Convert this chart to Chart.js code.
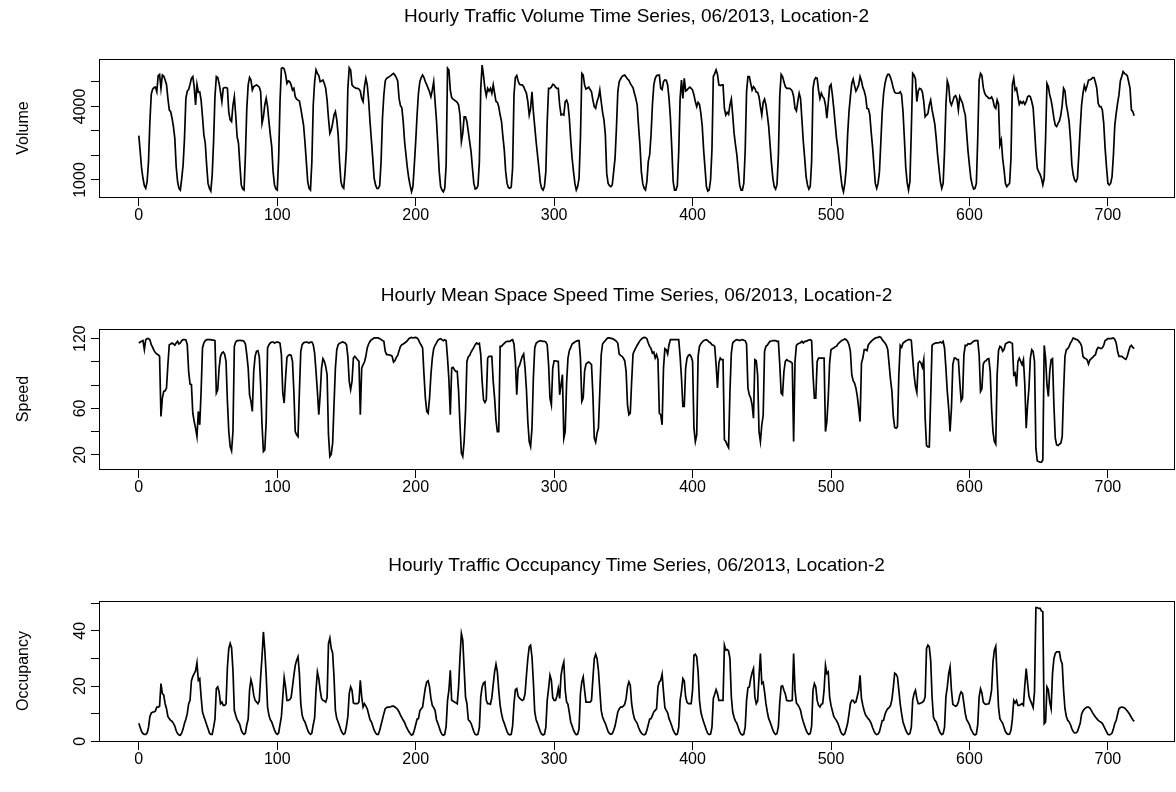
<!DOCTYPE html>
<html>
<head>
<meta charset="utf-8">
<script src="https://cdn.jsdelivr.net/npm/chart.js@4.4.0/dist/chart.umd.min.js"></script>
<style>
  body { margin: 0; background: #fff; width: 1176px; height: 792px; overflow: hidden; position: relative; }
  canvas { position: absolute; left: 0; }
</style>
</head>
<body>
<canvas id="volChart" width="1176" height="264" style="top:0px"></canvas>
<canvas id="spdChart" width="1176" height="264" style="top:264px"></canvas>
<canvas id="occChart" width="1176" height="264" style="top:528px"></canvas>
<script>
// hourly values, 06/2013, one line per day (24 h)
const volume = [
  2810,2160,1480,1070,770,660,930,1750,3380,4500,4710,4770,4790,4600,5260,5310,4740,5280,5240,5080,4900,4330,3860,3790,
  3520,3180,2700,1540,930,660,590,1070,1610,2700,4330,4630,4690,4900,5150,5220,4810,4060,4900,4580,4600,4260,3580,2840,
  2500,1610,860,660,550,1200,2560,4400,5220,5180,4940,4600,4200,4740,4770,4770,4740,3760,3450,3380,4060,4400,3650,2770,
  2500,1610,800,630,590,2020,3920,4880,5180,5080,4670,4810,4850,4880,4840,4790,4600,3310,3580,4060,4330,3990,3380,2840,
  2360,1340,800,630,590,1880,4200,5560,5580,5530,5310,4940,5040,5010,4880,4670,4740,4400,4300,4260,4220,3920,3580,3240,
  2560,1750,930,660,590,1750,4060,5010,5490,5350,5260,5010,5040,5080,4940,4740,4260,3520,2900,3040,3310,3650,3790,3450,
  2840,1750,930,730,660,1340,2290,4740,5580,5490,4880,4810,4770,4740,4740,4710,4630,4330,4200,4810,5150,4880,4260,3380,
  2630,1880,1070,800,660,660,770,1750,3520,4470,5040,5150,5180,5220,5260,5310,5350,5280,5180,5040,4330,4030,3950,3380,
  2560,2020,1480,1070,770,520,730,1610,2560,3650,4540,5010,5180,5280,5180,5010,4880,4740,4600,4400,4670,5010,4200,3450,
  2430,1340,730,590,520,660,1610,5560,5490,4670,4360,4300,4260,4220,4170,4060,3650,2560,2900,3580,3580,3380,2970,2560,
  2160,1480,860,630,660,770,1750,4740,5690,5260,4740,4440,4740,4630,4740,4540,4880,4540,4200,4170,3990,3650,3380,2770,
  2220,1340,860,690,660,710,1480,4470,5180,5260,5040,4900,4880,4880,4810,4670,4540,4200,3650,3920,4600,3790,3180,2560,
  2020,1480,900,660,590,730,1340,3380,4740,4740,4790,4900,4880,4790,4740,4740,4060,3650,3680,3650,4200,4260,4090,3520,
  2630,1880,1340,860,590,730,1070,2700,5350,5280,4880,4710,4740,4790,4690,4600,4260,3990,3920,4200,4360,4670,4200,3760,
  3450,2840,1270,860,770,730,800,1340,1880,3110,4600,5010,5120,5220,5260,5280,5200,5120,5070,4940,4850,4760,4540,4330,
  4060,3180,2430,1340,860,660,590,930,1750,2020,2840,4060,4880,5150,5260,5280,5280,4740,4690,5010,5080,5070,4880,4330,
  3520,2290,930,590,590,770,2160,4330,5080,4330,5150,4630,4670,4740,4790,4740,4670,4470,4200,3990,4170,4090,3720,3180,
  2220,1480,730,550,590,1000,2220,5220,5340,5490,5310,4880,4850,4880,4880,3920,3650,3760,3680,4060,4300,3650,2900,2430,
  2020,1410,800,590,590,860,2160,4600,5220,5220,4940,4670,4810,4740,4580,4580,4400,3990,3650,4170,4300,4060,3650,3180,
  2430,1680,1070,730,630,820,2020,4470,5310,5220,5010,4810,4740,4740,4740,4700,4630,4400,3920,3820,4200,4540,4330,3450,
  2560,1880,1140,800,630,730,1750,4740,5080,5180,5150,4670,4330,4540,4400,4330,4060,3520,4130,4810,4900,4470,3920,3310,
  2700,2290,1750,1200,730,520,860,1480,2840,3790,4400,4940,5120,4850,4630,4740,4880,5220,5040,4770,4630,4400,3920,3900,
  3680,2970,2360,1610,860,660,860,1340,2560,3790,4540,4940,5180,5310,5310,5180,4990,4740,4580,4540,4540,4540,4600,4470,
  3800,2700,1500,900,590,930,3000,5350,5280,5120,4200,4630,4740,4710,4600,4200,3580,3650,3710,4060,4260,3860,3580,3270,
  2700,2020,1480,930,660,860,2160,4060,5040,4850,4200,4060,4220,4400,4440,4300,3860,4400,4260,4130,3860,3650,2900,2160,
  1610,1070,800,630,660,860,2700,5080,5350,5260,4770,4540,4440,4390,4330,4330,4390,4260,3990,3920,4260,4090,2430,2630,
  1880,1410,860,730,800,860,1880,4880,5150,4670,4740,4400,4090,4200,4130,4200,4090,4200,4400,4440,4400,4200,3950,3110,
  2160,1480,1340,1230,1070,800,1070,2700,4940,4810,4470,4260,3920,3520,3240,3180,3310,3410,3650,4060,4740,4630,4060,3760,
  3380,2630,1610,1200,1000,930,1070,2020,3110,4060,4540,4850,4670,4850,5080,5080,5120,5180,5180,4990,4740,4130,3990,3990,
  3860,3310,2290,1540,860,800,860,1140,2020,3240,3720,4130,4470,5040,5220,5420,5350,5310,5260,5010,4740,3860,3790,3620
];

const speed = [
  116.3,117.1,117.7,118.3,110.5,119.1,120,120,119.1,114.8,112.5,109.7,107.9,106.8,106.2,104.8,53,68.9,74.6,75.2,77.5,97.6,114.8,115.4,
  116.3,115.4,114.3,116.3,117.7,115.4,116.3,118.3,119.1,119.1,118.8,114.8,91.8,80.9,80.4,55.9,48.7,43,35.8,57.4,45.9,74.6,112,116.3,
  118.3,119.1,119.1,119.1,119.1,118.8,118.8,118.3,73.2,76.1,94.7,104.8,107.6,108.5,106.8,100.5,66,40.1,27.2,23.5,40.1,113.4,117.1,118.3,
  118.3,118.6,118.3,118.3,117.7,115.4,106.2,94.7,71.7,66,57.4,91.8,104.8,109.1,109.7,104.8,80.4,45.9,22.9,24.3,48.7,112,114.8,116.3,
  117.1,117.1,116.3,116.8,117.1,116.8,116,106.2,73.2,64.6,86.1,103.9,105.6,106.2,105.6,100.5,74.6,40.1,37.3,35.8,74.6,109.1,114.8,116.5,
  116.8,117.1,116.8,116.3,117.1,117.1,114.8,107.6,91.8,74.6,54.5,71.7,94.7,102.8,100.5,96.1,89,37.3,18.6,20.6,30.1,63.1,94.7,110.5,
  114.8,116,116.5,117.1,116.8,116.3,114.8,104.8,83.2,76.1,83.2,103.3,104.8,103.3,101.9,100.5,54.5,94.7,97.6,99.9,104.8,112,115.4,117.7,
  119.1,119.7,120.6,120.6,120.6,120.6,120,119.4,118.3,117.7,109.1,106.2,106.2,105.9,105.6,104.8,99.9,101,103.9,105.6,109.7,113.4,114.8,115.4,
  116.3,117.1,118.3,120,120.6,121.1,120.6,120.9,121.1,120.6,119.1,116.3,114.3,112,89,68.9,57.4,55.9,68.9,89,103.3,111.4,114.3,116.3,
  118.6,119.4,120,119.1,118.3,119.1,118.3,103.3,84.7,54.5,94.7,95.3,93.3,91.8,91.8,74.6,45.9,21.5,18.6,31.5,57.4,100.5,104.5,105.6,
  108.5,110.5,112.5,114.8,116.3,115.4,116,106.2,83.2,67.4,65.1,67.4,103.3,104.8,104.8,104.8,83.2,68.9,50.2,40.1,40.1,113.4,113.4,114.8,
  116,117.1,117.7,117.7,117.7,118.6,119.1,115.4,100.5,71.7,94.7,97,101,104.8,106.8,94.7,76.1,48.7,31.5,27.2,43,86.1,112,116,
  117.1,117.7,118.3,118,117.7,117.7,117.1,114.8,97.6,68.9,63.1,94.7,101,101,100.5,100.5,71.7,80.4,89,34.4,40.1,81.8,103.3,109.7,
  112.5,115.4,116.3,117.1,117.7,118.3,118.3,103.3,66,68.9,91.8,98.1,99.3,99.9,99,97.6,71.7,34.4,30.9,38.7,43,74.6,106.2,115.4,
  117.1,118.3,120,120.6,120.6,120.3,120,119.4,118.6,117.7,116,106.8,105.6,104.8,103.3,101,91.8,63.1,54.5,55.9,83.2,106.8,109.7,112,
  114.3,116.3,118.3,119.7,120.6,121.1,120.9,120,116.3,113.4,111.4,107.6,108.5,103.3,106.2,101.9,55.9,54.5,45.9,94.7,111.4,110.5,106.8,114.8,
  119.1,119.1,119.1,119.1,119.1,119.1,119.1,104.8,86.1,61.7,61.7,94.7,103.3,105.6,106.2,104.5,100.5,43,31.5,37.3,104.8,113.4,115.7,117.1,
  118.3,118.8,119.1,118.3,117.1,116.3,114.8,114.3,113.4,97.6,77.5,99,103.3,101.9,101.9,33,31.5,28.6,26.3,74.6,107.6,116.3,117.7,118.6,
  119.1,118.8,118.3,118.8,119.1,118.6,118.3,115.4,77.5,71.7,68.9,63.1,51.6,101.9,101,89,40.1,31.5,45.9,53.9,109.1,113.4,114.3,116.3,
  117.7,118,118.3,118.3,118.3,117.7,117.7,97.6,73.2,71.7,91.8,100.5,101.9,101,100.5,99.9,99,31.5,100.5,114.3,115.4,116,116.5,117.7,
  116.3,117.7,117.7,118.3,118.8,119.1,118.3,89,68.9,68.9,100.5,103.3,103.3,103.3,103.3,103.3,40.1,48.7,68.9,99,110.5,111.4,112,113.1,
  113.4,115.4,116.5,117.7,118.6,119.1,119.7,119.1,117.7,114.8,109.1,89,83.8,81.8,77.5,70.3,60.2,48.7,99,103.3,110.5,110.5,109.7,114.8,
  116.3,117.7,118.8,119.7,120.6,120.9,121.1,121.7,121.1,119.1,117.7,116.3,114.3,110.5,97.6,84.7,74.6,53.1,43.6,43,44.4,89,114.3,112.5,
  116.3,117.1,118,118.6,119.1,119.1,118.6,103.3,89,78.9,73.7,99,100.5,99,95.3,101.9,51.6,28.1,26.9,26.9,68.9,114.3,115.4,116,
  116.3,116.3,116.5,117.1,116.3,117.7,112,94.7,74.6,60.2,40.1,60.2,97.6,103.3,103.3,101.9,101.9,83.2,66.6,68.9,106.2,114.3,114,115.7,
  115.4,115.7,116.8,117.7,118.3,118.3,118.3,106.2,74.6,76.9,98.2,100.5,101,102.5,102.8,91.8,60.2,40.1,31.5,29.2,89,109.7,113.4,112.5,
  109.1,110.5,115.4,116.3,116.8,117.1,116.5,116,89,90.4,78.9,100.5,103.3,100.5,97.6,101.9,80.4,43,63.1,77.5,103.3,110.5,109.1,100.5,
  25.8,14.8,14.3,13.7,13.7,15.7,114.2,103.3,80.4,70.3,91.8,101.9,102.8,63.1,34.4,28.6,28.1,29.2,30.1,35.8,74.6,104.8,110.5,111.4,
  113.4,116.3,118.3,120.6,120,119.4,119.1,117.7,116.3,113.7,104.8,103.3,102.8,101.9,98.2,101.6,102.8,103.9,105.1,106.2,110.5,112.5,112,111.4,
  112,114.3,118.3,119.1,120,120,120,120.3,120.6,119.4,116.3,109.1,104.8,104.8,104.8,103.9,102.8,102.2,104.8,109.1,113.1,114.3,112.5,111.4
];

const occupancy = [
  6.5,5,3.5,2.8,2.5,2.5,3,5,9,10.2,10.6,10.6,11,12.4,12.4,12.7,20.9,17.3,16.7,13.6,11.8,9,8.2,7.6,
  7.2,6.5,5.5,3.8,2.8,2.3,2.2,3,4.5,6.5,8,10,13.6,14.8,21.9,23.5,24.5,25.5,28.4,22.1,22.7,16.1,10.6,9,
  7.5,6,4.5,3,2.5,2.5,5,8,19.1,19.7,17.9,13.6,14.2,13,13,13.6,26.9,33.6,35.4,33.9,25.7,11.2,9.4,7.8,
  7,6,4,3,2.5,3,6,8,18.5,22.3,20.3,16.7,14.8,14.2,13.6,14.6,23.3,30.6,39.6,33,23.9,12.4,9.4,7.8,
  7,5.5,4,3,2.5,3,6,9,16.1,23.1,19.7,14.8,14.8,15.1,15.8,19.7,23.9,27.5,29.3,30.6,24.5,13.6,9.4,7.8,
  7,5.5,4,3,2.5,3,6,8.5,18.5,25.1,22.7,18.5,15.5,14.8,14.6,14.2,15.8,35.4,37.4,33.6,32,23.3,11.2,8.2,
  7,5.5,4,3,2.5,3,5.5,9,17.3,19.7,18.5,13.9,13.6,13.6,13.6,14.2,22.1,16.1,12.4,13.6,12.7,11.8,9.8,7.8,
  7,5.5,4,3,2.5,2.5,4,6,8,10,11.8,12.2,12.4,12.4,12.5,12.7,12.7,12.4,12,11.5,10.6,9.5,8.6,7.6,
  6.8,5.5,4.5,3.5,2.8,2.2,2.5,4,6,8,8.2,11,11.8,12.4,16.1,19.4,21.5,21.9,19.7,15.5,13,12.2,11.2,7.8,
  6.5,5,3.5,2.5,2.2,2.5,5.5,14.8,18.5,25.7,14.8,14.6,14.2,13.9,13.6,19.7,30.6,39,36.6,26.3,16.1,13.6,7.8,7.3,
  6.5,5,3.5,2.5,2.3,2.6,5,16.1,19.7,21.1,21.5,14.8,13.6,13.6,13.4,15.8,20.6,25.1,27.9,25.1,18.5,13,10,7.8,
  6.5,5,3.5,2.6,2.3,2.5,5.5,13.6,18.7,19.1,16.3,15.6,15.2,14.8,15.1,17.3,23.9,29.9,34.2,34.8,30.6,21.5,10.6,7.8,
  6.5,5,3.5,2.6,2.3,2.6,5,14.8,19.1,23.9,22.1,15.8,14.8,14.8,16.3,19.1,15.5,23.9,26.9,28.7,18.5,14.2,13.4,10.3,
  7,5.5,4,3,2.4,2.6,4.5,17.3,21.5,23.3,18.5,14.2,14.2,14.2,14.2,14.8,22.7,29.9,31.5,29.9,25.7,18.5,11.2,8.8,
  7.5,6.5,5,3.5,2.8,2.5,2.8,4,5.5,8,10.6,11.7,12.4,12.4,12.7,13.4,15.5,19.7,21.5,20.3,13.6,10.3,8.2,7.3,
  6.5,5,3.8,3,2.5,2.3,2.6,4,6,8,8.2,9.4,10.6,11.2,11.8,19.7,21.5,22.1,24.3,17.9,12.2,11.2,10.3,8.2,
  7,5.5,4,3,2.4,2.6,5,14.8,18.2,22.7,21.9,16.1,14.1,13.6,13.6,13.6,18.5,31.2,31.5,30.6,25.1,14.8,10.6,8.6,
  7,5.5,4,2.8,2.4,2.6,5,15.5,17,18.7,17.3,14.8,14.8,14.8,14.8,34.8,33,33.2,32.7,29.9,16.1,10.6,8.6,7.3,
  6.5,5,3.5,2.6,2.3,2.6,5,14.8,19.4,19.7,22.7,24.8,26.3,16.1,13.6,14.6,23.3,31.8,20.9,21.4,17.9,13.6,10.6,8.2,
  7,5.5,4,3,2.5,2.8,5.5,14.2,19.9,20.1,18.5,17.1,14.8,14.7,14.6,14.7,14.8,31.8,18.5,13.9,13.2,12.4,11.2,8.8,
  7,5.5,4,3,2.5,2.8,5.5,18.5,20.9,19.7,14.8,13,12.4,13.4,13.6,18.5,27.5,24.5,25.1,16.1,13,11,9,8.2,
  7.5,6.5,5,3.5,2.6,2.3,2.8,4.5,6.5,9.8,13.6,14.8,14.8,13.9,14.2,16.3,18.5,23.9,15.5,13,11,9.5,8.8,8.1,
  7.5,6.5,5,3.8,2.8,2.4,2.6,3.5,5.5,7.5,7.6,9.8,11,11.8,12.2,13,15.1,19.4,24.7,24.3,23.3,18.5,13.5,10,
  7,5.5,4,3,2.5,2.8,5,14.8,17.3,18.5,15.5,13.6,13.6,13.9,14.1,14.6,16.1,33.6,34.8,34.2,29.3,16.1,8.8,7.6,
  7,5.5,4,3,2.4,2.7,5,16.1,19.7,24.5,26.9,18.5,13.4,13,12.7,13,14.2,16.7,17.9,17.3,13.6,10,7.8,7,
  6,4.5,3.5,2.6,2.3,2.6,6,16.1,19,17.5,14.2,13.6,13.4,13.5,13.6,15.5,18.5,28.7,33,34.4,23.3,12.4,8.2,7.3,
  6.5,5,3.5,2.8,2.5,2.6,4,8,14.8,13.9,14.8,13,13,13.3,13.6,13,20.3,26.3,21.1,16.3,14.8,13.6,12.2,17.9,
  48.4,48.4,48.1,48.1,47.2,46.9,6.4,7,19.7,18.7,14.2,11.8,24.5,29.9,31.8,32.4,32.4,32.4,29.3,28.1,18.5,11.8,9,7.6,
  7,6,4.5,3.5,3,3,3.5,5,6.5,9.8,11,11.7,12.1,12.4,12.4,12,11.2,10.3,9.5,8.8,8.2,7.6,7.2,6.9,
  6.5,5.5,4.5,3.5,2.5,2.3,2.5,3,4.5,6.5,7.5,9.8,11.8,12.2,12.4,12.3,12.1,11.6,11,10.3,9.5,8.6,7.8,7.2
];

const xTicks = [0, 100, 200, 300, 400, 500, 600, 700];
const volTicks = [1000, 2000, 3000, 4000, 5000];
const volLabels = [1000, 4000];
const spdTicks = [20, 40, 60, 80, 100, 120];
const spdLabels = [20, 60, 120];
const occTicks = [0, 10, 20, 30, 40, 50];
const occLabels = [0, 20, 40];

[volume, speed, occupancy].forEach((s, k) => {
  if (s.length !== 720) throw new Error('series ' + k + ' has ' + s.length + ' values');
});

const FONT = '"Liberation Sans", Arial, Helvetica, sans-serif';

// R-style box, rotated y labels and titles
const framePlugin = {
  id: 'frame',
  afterDraw(chart, args, o) {
    const { ctx, chartArea: a, scales } = chart;
    ctx.save();
    ctx.strokeStyle = '#000';
    ctx.lineWidth = 1;
    ctx.strokeRect(Math.round(a.left) + 0.5, Math.round(a.top) + 0.5,
                   Math.round(a.right - a.left), Math.round(a.bottom - a.top));
    ctx.fillStyle = '#000';
    ctx.textAlign = 'center';
    ctx.textBaseline = 'middle';
    ctx.font = '16px ' + FONT;
    o.yLabels.forEach(v => {
      const y = scales.y.getPixelForValue(v);
      ctx.save();
      ctx.translate(o.labelX, y);
      ctx.rotate(-Math.PI / 2);
      ctx.fillText(String(v), 0, 0);
      ctx.restore();
    });
    ctx.save();
    ctx.translate(o.titleX, (a.top + a.bottom) / 2);
    ctx.rotate(-Math.PI / 2);
    ctx.fillText(o.yTitle, 0, 0);
    ctx.restore();
    ctx.font = '19px ' + FONT;
    ctx.fillText(o.main, (a.left + a.right) / 2, o.mainY);
    ctx.restore();
  }
};

function makePanel(id, series, opts) {
  const pts = series.map((v, i) => ({ x: i, y: v }));
  return new Chart(document.getElementById(id), {
    type: 'line',
    data: {
      datasets: [{
        data: pts,
        borderColor: '#000',
        borderWidth: 1.7,
        pointRadius: 0,
        tension: 0,
        fill: false
      }]
    },
    plugins: [framePlugin],
    options: {
      responsive: false,
      animation: false,
      devicePixelRatio: 1,
      parsing: false,
      layout: { padding: { top: opts.top, right: 2, left: 0, bottom: 0 } },
      plugins: {
        legend: { display: false },
        tooltip: { enabled: false },
        frame: {
          yLabels: opts.yLabels, yTitle: opts.yTitle, main: opts.main,
          mainY: opts.mainY, labelX: 81, titleX: 24
        }
      },
      scales: {
        x: {
          type: 'linear',
          min: -28.76,
          max: 747.76,
          afterBuildTicks: s => { s.ticks = xTicks.map(v => ({ value: v })); },
          afterFit: s => { s.height = opts.bottom; },
          border: { display: false },
          grid: { drawOnChartArea: false, drawTicks: true, tickLength: 9, color: '#000', lineWidth: 1 },
          ticks: {
            autoSkip: false, maxRotation: 0, minRotation: 0, padding: 0,
            color: '#000', font: { family: FONT, size: 16 }
          }
        },
        y: {
          type: 'linear',
          min: opts.yMin,
          max: opts.yMax,
          afterBuildTicks: s => { s.ticks = opts.yTicks.map(v => ({ value: v })); },
          afterFit: s => { s.width = 99; },
          border: { display: false },
          grid: { drawOnChartArea: false, drawTicks: true, tickLength: 8, color: '#000', lineWidth: 1 },
          ticks: { display: false }
        }
      }
    }
  });
}

makePanel('volChart', volume, {
  top: 59, bottom: 67, yMin: 306, yMax: 5937,
  yTicks: volTicks, yLabels: volLabels, yTitle: 'Volume', mainY: 17,
  main: 'Hourly Traffic Volume Time Series, 06/2013, Location-2'
});
makePanel('spdChart', speed, {
  top: 65, bottom: 59, yMin: 7.9, yMax: 128.3,
  yTicks: spdTicks, yLabels: spdLabels, yTitle: 'Speed', mainY: 32,
  main: 'Hourly Mean Space Speed Time Series, 06/2013, Location-2'
});
makePanel('occChart', occupancy, {
  top: 73, bottom: 51, yMin: 0.1, yMax: 50.8,
  yTicks: occTicks, yLabels: occLabels, yTitle: 'Occupancy', mainY: 38,
  main: 'Hourly Traffic Occupancy Time Series, 06/2013, Location-2'
});
</script>
</body>
</html>
